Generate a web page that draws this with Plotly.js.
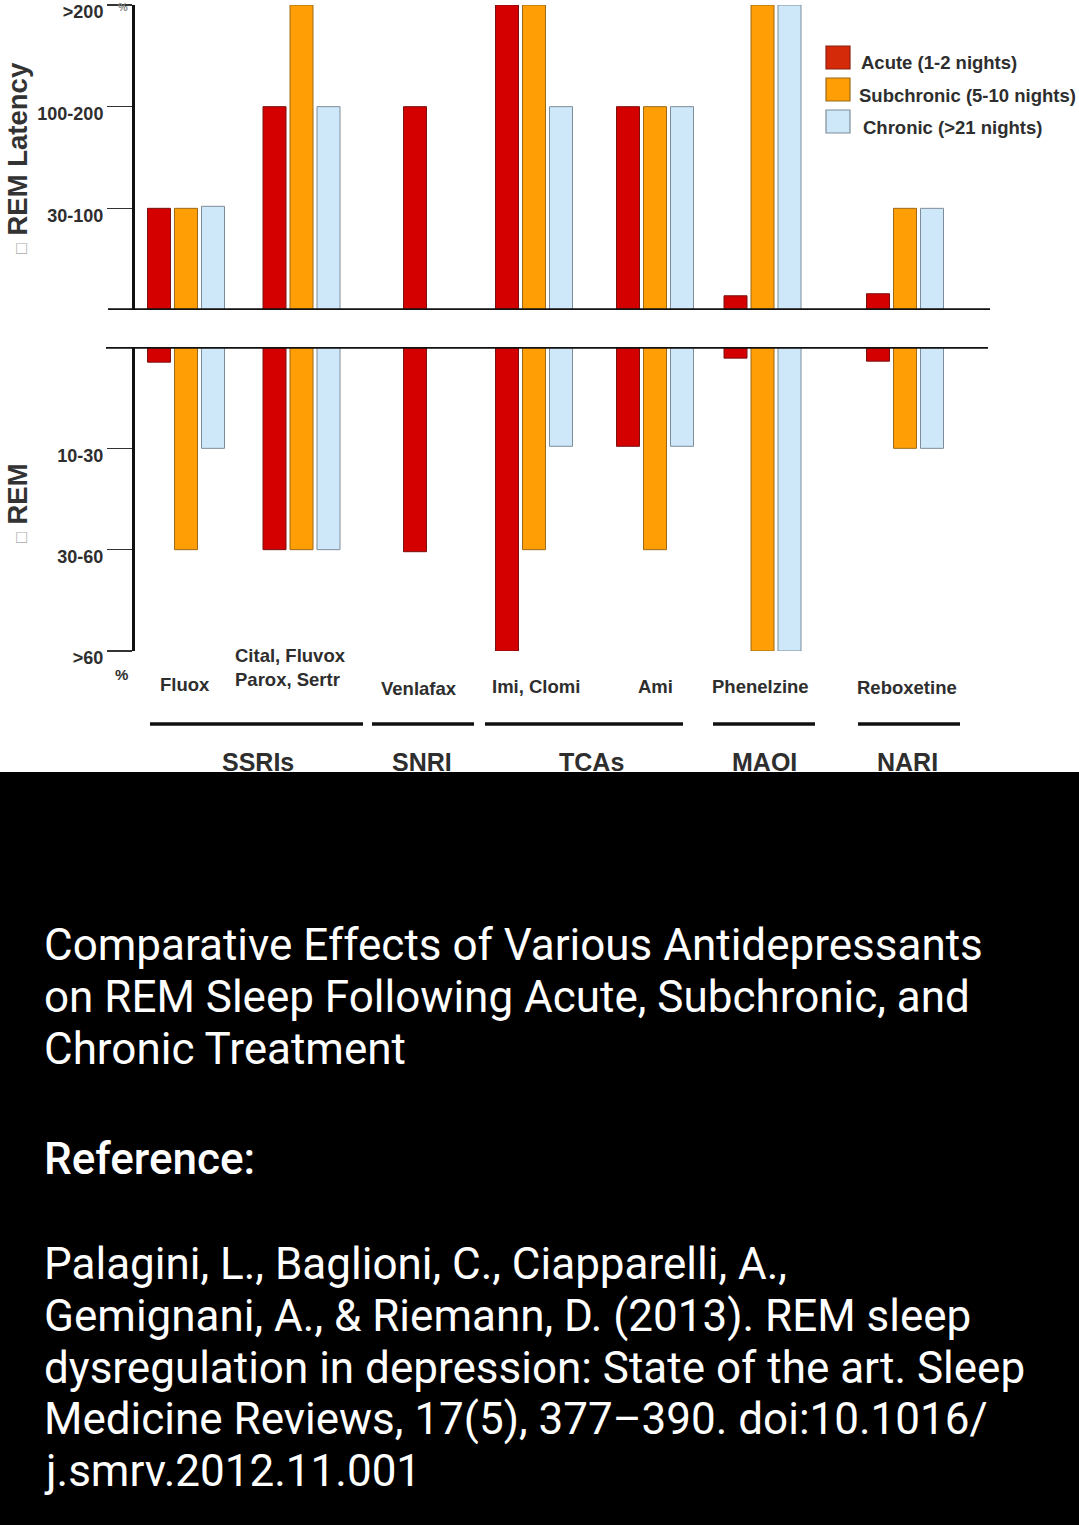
<!DOCTYPE html>
<html>
<head>
<meta charset="utf-8">
<script src="https://cdn.plot.ly/plotly-3.0.1.min.js"></script>
<style>
html,body{margin:0;padding:0;background:#000;}
#chart{width:1079px;height:1525px;}
</style>
</head>
<body>
<div id="chart"></div>
<script>
// ---------------- DATA ----------------
const drugs = ['Fluox', 'Cital, Fluvox<br>Parox, Sertr', 'Venlafax', 'Imi, Clomi', 'Ami', 'Phenelzine', 'Reboxetine'];
const drugClasses = ['SSRIs', 'SNRI', 'TCAs', 'MAOI', 'NARI'];
const seriesNames = ['Acute (1-2 nights)', 'Subchronic (5-10 nights)', 'Chronic (>21 nights)'];

// REM latency increase (ordinal level: 1 = 30-100 %, 2 = 100-200 %, 3 = >200 %)
const latencyTicks = ['30-100', '100-200', '>200'];
const latencyAcute      = [1, 2, 2, 3, 2, 0.14, 0.16];
const latencySubchronic = [1, 3, null, 3, 2, 3, 1];
const latencyChronic    = [1.02, 2, null, 2, 2, 3, 1];

// REM reduction (ordinal level: 1 = 10-30 %, 2 = 30-60 %, 3 = >60 %)
const remTicks = ['10-30', '30-60', '>60'];
const remAcute      = [0.15, 2, 2.02, 3, 0.98, 0.11, 0.14];
const remSubchronic = [2, 2, null, 2, 2, 3, 1];
const remChronic    = [1, 2, null, 0.98, 0.98, 3, 1];

const captionTitle = ['Comparative Effects of Various Antidepressants',
                      'on REM Sleep Following Acute, Subchronic, and',
                      'Chronic Treatment'];
const captionRefHead = 'Reference:';
const captionRef = ['Palagini, L., Baglioni, C., Ciapparelli, A.,',
                    'Gemignani, A., & Riemann, D. (2013). REM sleep',
                    'dysregulation in depression: State of the art. Sleep',
                    'Medicine Reviews, 17(5), 377\u2013390. doi:10.1016/',
                    'j.smrv.2012.11.001'];

// ---------------- LAYOUT HELPERS ----------------
const W = 1079, H = 1525;
const px = x => x / W;
const py = y => 1 - y / H;
const SLOT = 27;                       // pixels per x unit
const groupPos = [186, 301.5, 442, 534, 655, 762.5, 905].map(v => v / SLOT);
const drugLabelX = [185, 233, 419, 536, 655, 760, 907];
const drugLabelY = [684, 667, 688, 686, 686, 686, 687];
const classSpans = [[150, 363], [372, 474], [485, 683], [713, 815], [858, 960]];
const classLabelX = [258, 422, 591, 764, 907];

const colors = ['#d40000', '#ff9f05', '#cfe8f9'];
const lineColors = ['#7a1010', '#9a6a1a', '#7c8c98'];
const BAR_W = 23 / SLOT;
const textCol = '#2e2e2e';
const FONT = 'Liberation Sans, Arial, sans-serif';

const latSeries = [latencyAcute, latencySubchronic, latencyChronic];
const remSeries = [remAcute, remSubchronic, remChronic];

const traces = [];
latSeries.forEach((vals, i) => {
  traces.push({
    type: 'bar', x: groupPos, y: vals, name: seriesNames[i],
    xaxis: 'x', yaxis: 'y',
    width: BAR_W, offset: (i - 1) - BAR_W / 2,
    marker: {color: colors[i], line: {color: lineColors[i], width: 1}},
    showlegend: false, hoverinfo: 'skip'
  });
});
remSeries.forEach((vals, i) => {
  traces.push({
    type: 'bar', x: groupPos, y: vals, name: seriesNames[i],
    xaxis: 'x', yaxis: 'y2',
    width: BAR_W, offset: (i - 1) - BAR_W / 2,
    marker: {color: colors[i], line: {color: lineColors[i], width: 1}},
    showlegend: false, hoverinfo: 'skip'
  });
});

const tickFont = {family: FONT, size: 18, color: textCol, weight: 'bold'};

const shapes = [];
// white chart area
shapes.push({type: 'rect', xref: 'paper', yref: 'paper', x0: 0, x1: 1, y0: py(772), y1: 1,
  fillcolor: '#ffffff', line: {width: 0}, layer: 'below'});
// baselines
shapes.push({type: 'line', xref: 'paper', yref: 'y', x0: px(108), x1: px(990), y0: 0, y1: 0,
  line: {color: '#111', width: 3.5}});
shapes.push({type: 'line', xref: 'paper', yref: 'y2', x0: px(106), x1: px(988), y0: 0, y1: 0,
  line: {color: '#111', width: 3.5}});
// class lines
classSpans.forEach(s => shapes.push({type: 'line', xref: 'paper', yref: 'paper',
  x0: px(s[0]), x1: px(s[1]), y0: py(724), y1: py(724), line: {color: '#111', width: 3.5}}));
// legend swatches
seriesNames.forEach((n, i) => {
  const top = 46 + i * 32;
  shapes.push({type: 'rect', xref: 'paper', yref: 'paper', x0: px(826), x1: px(850),
    y0: py(top + 23), y1: py(top), fillcolor: i === 0 ? '#d42a0a' : colors[i],
    line: {color: i === 0 ? '#8a2010' : lineColors[i], width: 1.2}});
});

const annotations = [];
// legend text
seriesNames.forEach((n, i) => {
  annotations.push({xref: 'paper', yref: 'paper', x: px(i === 1 ? 857 : (i === 2 ? 861 : 859)), y: py(63 + i * 32),
    xanchor: 'left', yanchor: 'middle', showarrow: false, text: n,
    font: {family: FONT, size: 18.5, color: textCol, weight: 'bold'}});
});
// drug labels
drugs.forEach((d, i) => {
  annotations.push({xref: 'paper', yref: 'paper', x: px(drugLabelX[i]), y: py(drugLabelY[i]),
    xanchor: i === 1 ? 'left' : 'center', yanchor: 'middle', align: 'left', showarrow: false, text: d,
    font: {family: FONT, size: 18.5, color: textCol, weight: 'bold'}});
});
// class labels (bottoms cut by the black band)
drugClasses.forEach((c, i) => {
  annotations.push({xref: 'paper', yref: 'paper', x: px(classLabelX[i]), y: py(747),
    xanchor: 'center', yanchor: 'top', showarrow: false, text: c,
    height: 25, valign: 'top', borderpad: 0,
    font: {family: FONT, size: 25, color: textCol, weight: 'bold'}});
});
// percent marks
annotations.push({xref: 'paper', yref: 'paper', x: px(121), y: py(674), xanchor: 'center', yanchor: 'middle',
  showarrow: false, text: '%', font: {family: FONT, size: 15, color: textCol, weight: 'bold'}});
annotations.push({xref: 'paper', yref: 'paper', x: px(123), y: py(7), xanchor: 'center', yanchor: 'middle',
  showarrow: false, text: '%', font: {family: FONT, size: 11, color: '#888', weight: 'bold'}});
// rotated side titles
annotations.push({xref: 'paper', yref: 'paper', x: px(18), y: py(158), xanchor: 'center', yanchor: 'middle',
  showarrow: false, textangle: -90,
  text: '<span style="font-size:18px;color:#aaa">\u25A1</span> REM Latency',
  font: {family: FONT, size: 27.5, color: '#333', weight: 'bold'}});
annotations.push({xref: 'paper', yref: 'paper', x: px(18), y: py(503), xanchor: 'center', yanchor: 'middle',
  showarrow: false, textangle: -90,
  text: '<span style="font-size:18px;color:#aaa">\u25A1</span> REM',
  font: {family: FONT, size: 27.5, color: '#333', weight: 'bold'}});
// caption
const capFont = {family: 'Roboto, sans-serif', size: 44, color: '#ffffff'};
captionTitle.forEach((t, i) => annotations.push({xref: 'paper', yref: 'paper', x: px(42), y: py(945 + i * 52),
  xanchor: 'left', yanchor: 'middle', showarrow: false, text: t, font: capFont}));
annotations.push({xref: 'paper', yref: 'paper', x: px(42), y: py(1159), xanchor: 'left', yanchor: 'middle',
  showarrow: false, text: captionRefHead, font: Object.assign({}, capFont, {weight: 500})});
captionRef.forEach((t, i) => annotations.push({xref: 'paper', yref: 'paper', x: px(42), y: py(1264 + i * 51.8),
  xanchor: 'left', yanchor: 'middle', showarrow: false, text: t, font: capFont}));

const layout = {
  width: W, height: H,
  margin: {l: 0, r: 0, t: 0, b: 0, pad: 0},
  paper_bgcolor: '#000000',
  plot_bgcolor: 'rgba(0,0,0,0)',
  barmode: 'overlay',
  showlegend: false,
  xaxis: {domain: [0, 1], range: [0, W / SLOT], visible: false, fixedrange: true},
  yaxis: {domain: [py(310), py(5)], range: [0, 3], anchor: 'free', position: px(133),
    tickvals: [1, 2, 3], ticktext: latencyTicks, ticks: 'outside', ticklen: 25, tickwidth: 1.5,
    tickcolor: '#333', showline: true, linewidth: 3, linecolor: '#111', showgrid: false, zeroline: false,
    tickfont: tickFont, ticklabeloverflow: 'allow', ticklabelshift: 7, fixedrange: true},
  yaxis2: {domain: [py(651), py(347)], range: [3, 0], anchor: 'free', position: px(133),
    tickvals: [1, 2, 3], ticktext: remTicks, ticks: 'outside', ticklen: 25, tickwidth: 1.5,
    tickcolor: '#333', showline: true, linewidth: 3, linecolor: '#111', showgrid: false, zeroline: false,
    tickfont: tickFont, ticklabeloverflow: 'allow', ticklabelshift: -7, fixedrange: true},
  shapes: shapes,
  annotations: annotations
};

Plotly.newPlot('chart', traces, layout, {staticPlot: true, displayModeBar: false});
</script>
</body>
</html>
